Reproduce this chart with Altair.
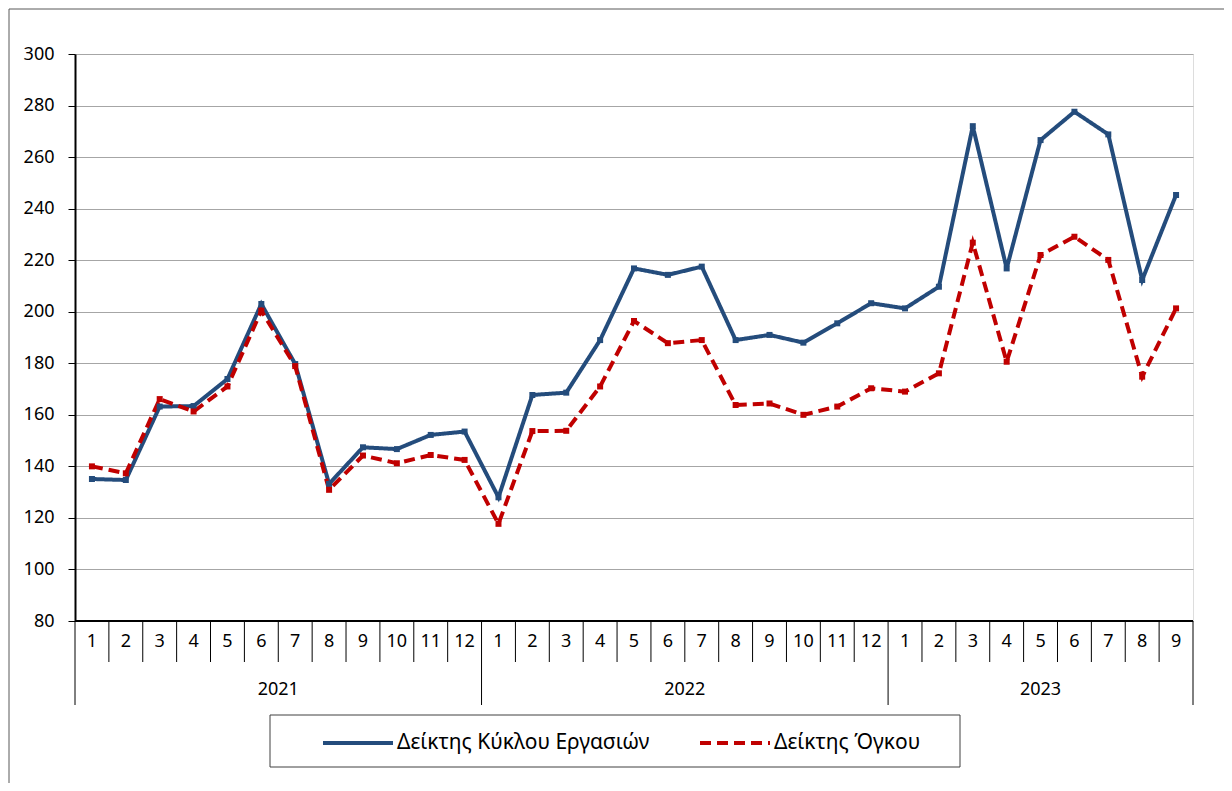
import altair as alt
import pandas as pd

# ---- data ----
years = ["2021"] * 12 + ["2022"] * 12 + ["2023"] * 9
months = [str(m) for m in range(1, 13)] * 2 + [str(m) for m in range(1, 10)]
turnover = [135.1, 134.7, 163.2, 163.4, 173.9, 203.0, 179.7, 133.2, 147.4, 146.7, 152.2, 153.5,
            128.0, 167.7, 168.6, 189.0, 216.8, 214.3, 217.5, 189.0, 191.0, 188.0, 195.5, 203.3,
            201.3, 209.7, 272.0, 216.8, 266.6, 277.6, 268.8, 212.3, 245.3]
volume = [140.0, 137.3, 166.1, 161.3, 171.0, 200.4, 178.9, 130.9, 144.2, 141.2, 144.4, 142.5,
          117.7, 153.7, 153.8, 171.0, 196.4, 187.8, 189.0, 163.8, 164.4, 160.0, 163.2, 170.3,
          169.0, 176.1, 226.8, 180.6, 222.0, 229.1, 220.1, 174.8, 201.3]
series_names = ["Δείκτης Κύκλου Εργασιών", "Δείκτης Όγκου"]
series_colors = ["#244C7C", "#C00000"]
year_labels = ["2021", "2022", "2023"]
y_ticks = list(range(80, 301, 20))

FONT = "Noto Sans"
W, H = 1118, 567

n = len(months)
rows = []
for i in range(n):
    rows.append({"pos": i + 0.5, "month": months[i], "series": series_names[0], "value": turnover[i]})
    rows.append({"pos": i + 0.5, "month": months[i], "series": series_names[1], "value": volume[i]})
df = pd.DataFrame(rows)

month_df = pd.DataFrame({"pos": [i + 0.5 for i in range(n)], "month": months})
year_centers = []
for y in year_labels:
    idx = [i for i, v in enumerate(years) if v == y]
    year_centers.append((idx[0] + idx[-1] + 1) / 2)
year_df = pd.DataFrame({"pos": year_centers, "year": year_labels})

long_b = [0]
for i in range(1, n):
    if years[i] != years[i - 1]:
        long_b.append(i)
long_b.append(n)
short_b = [b for b in range(n + 1) if b not in long_b]
short_df = pd.DataFrame({"b": short_b})
long_df = pd.DataFrame({"b": long_b})

xscale = alt.Scale(domain=[0, n], nice=False, zero=False)
yscale = alt.Scale(domain=[80, 300], nice=False, zero=False)

color = alt.Color("series:N", scale=alt.Scale(domain=series_names, range=series_colors),
                  legend=alt.Legend(title=None, orient="none", legendX=246, legendY=652,
                                    direction="horizontal", symbolType="stroke",
                                    symbolSize=4900, symbolStrokeWidth=4,
                                    labelFont=FONT, labelFontSize=21, labelColor="black",
                                    labelOffset=2, columnPadding=42, padding=0,
                                    labelLimit=400))
dash = alt.StrokeDash("series:N", scale=alt.Scale(domain=series_names, range=[[1, 0], [11, 6]]),
                      legend=None)

lines = alt.Chart(df).mark_line(
    strokeWidth=4,
    point=alt.OverlayMarkDef(shape="square", filled=True, size=36, opacity=1),
).encode(
    x=alt.X("pos:Q", scale=xscale, axis=None),
    y=alt.Y("value:Q", scale=yscale,
            axis=alt.Axis(values=y_ticks, title=None, grid=True, gridColor="#A6A6A6",
                          gridWidth=1, domainColor="black", domainWidth=2, tickColor="black",
                          tickSize=7, tickWidth=1, labelFont=FONT, labelFontSize=18,
                          labelColor="black", labelPadding=14)),
    color=color,
    strokeDash=dash,
)

one = pd.DataFrame({"v": [0]})

bottom_axis = alt.Chart(one).mark_rule(color="black", strokeWidth=2).encode(
    x=alt.value(0), x2=alt.value(W), y=alt.value(H))

short_sep = alt.Chart(short_df).mark_rule(color="black", strokeWidth=1).encode(
    x=alt.X("b:Q", scale=xscale, axis=None), y=alt.value(H), y2=alt.value(H + 41))
long_sep = alt.Chart(long_df).mark_rule(color="black", strokeWidth=1).encode(
    x=alt.X("b:Q", scale=xscale, axis=None), y=alt.value(H), y2=alt.value(H + 84))

month_text = alt.Chart(month_df).mark_text(font=FONT, fontSize=18, color="black", baseline="middle").encode(
    x=alt.X("pos:Q", scale=xscale, axis=None), y=alt.value(H + 21), text="month:N")
year_text = alt.Chart(year_df).mark_text(font=FONT, fontSize=18, color="black", baseline="middle").encode(
    x=alt.X("pos:Q", scale=xscale, axis=None), y=alt.value(H + 69), text="year:N")

legend_box = alt.Chart(one).mark_rect(fill="white", stroke="#404040", strokeWidth=1).encode(
    x=alt.value(195), x2=alt.value(885), y=alt.value(661), y2=alt.value(713))

outer_frame = alt.Chart(one).mark_rect(fill="transparent", stroke="#595959", strokeWidth=1).encode(
    x=alt.value(-66), x2=alt.value(1300), y=alt.value(-45), y2=alt.value(900))

chart = alt.layer(
    outer_frame, legend_box, short_sep, long_sep, month_text, year_text, lines, bottom_axis
).properties(
    width=W, height=H,
    padding={"left": 67, "top": 46, "right": 31, "bottom": 162},
    autosize=alt.AutoSizeParams(type="none"),
).configure_view(stroke="black", strokeWidth=2).configure(background="white")

chart.save("out.html", embed_options={"renderer": "svg", "actions": False})
